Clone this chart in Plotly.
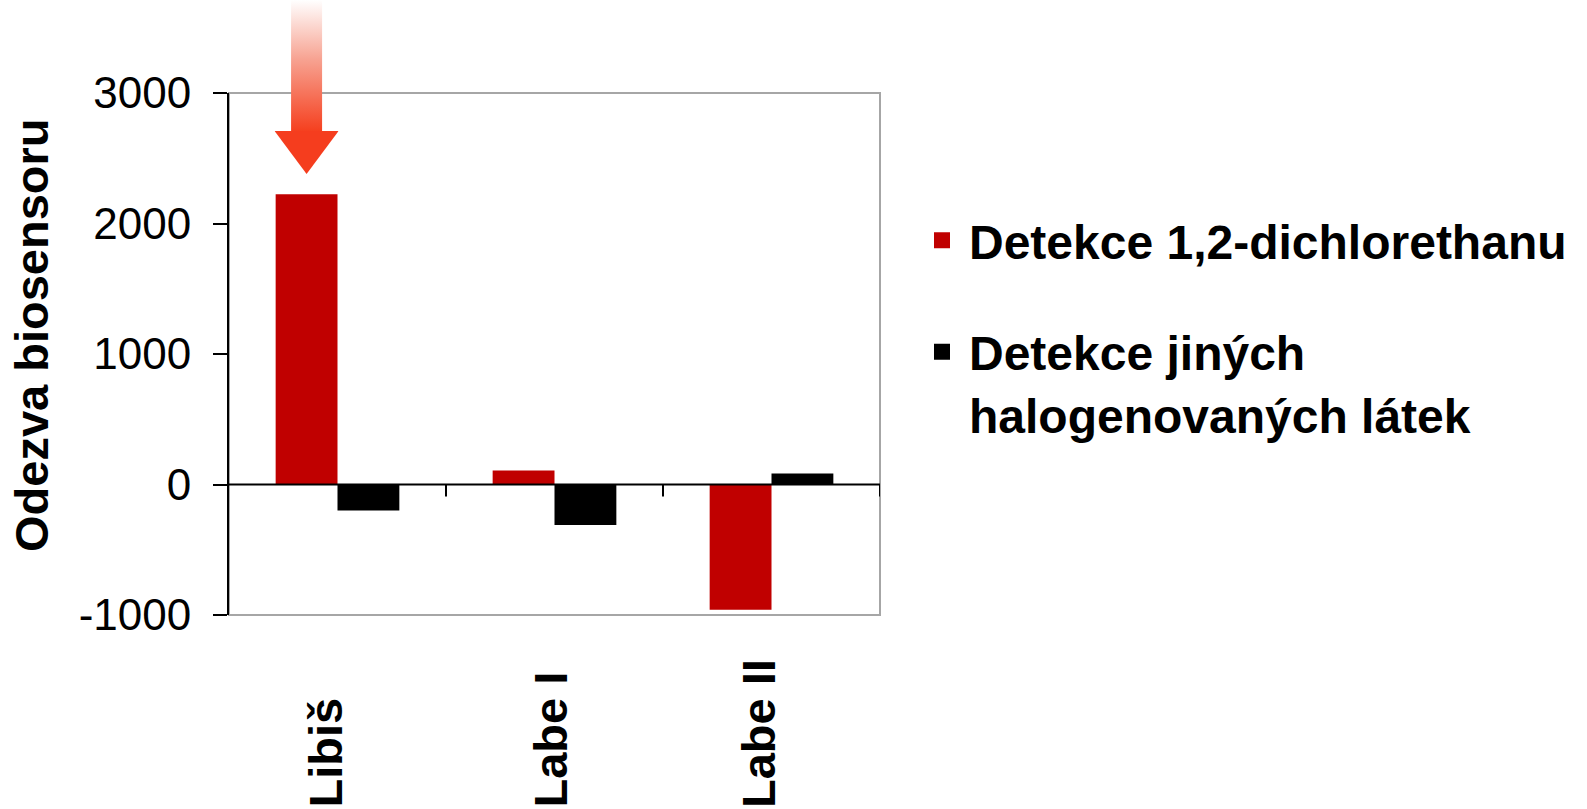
import base64
import plotly.graph_objects as go

# Sampling sites and biosensor responses
sites = ["Libiš", "Labe I", "Labe II"]
dce_response = [2225, 108, -960]          # Detekce 1,2-dichlorethanu
other_response = [-200, -310, 85]         # Detekce jiných halogenovaných látek
y_ticks = [-1000, 0, 1000, 2000, 3000]

series_names = ["Detekce 1,2-dichlorethanu",
                "Detekce jiných<br>halogenovaných látek"]
series_colors = ["#c00000", "#000000"]

FONT = "Liberation Sans, Arial, sans-serif"
W, H = 1587, 809
M_L, M_R, M_T, M_B = 229, 707, 93, 194
PLOT_W = W - M_L - M_R
PLOT_H = H - M_T - M_B
BARGAP = 0.43

fig = go.Figure()
for name, vals, col in zip(series_names, [dce_response, other_response], series_colors):
    fig.add_trace(go.Bar(
        x=sites, y=vals, name=name, showlegend=False,
        marker=dict(color=col, line=dict(width=0)),
    ))
# legend entries with larger square keys
for name, col in zip(series_names, series_colors):
    bold = "<b>" + name.replace("<br>", "</b><br><b>") + "</b>"
    fig.add_trace(go.Scatter(
        x=[None], y=[None], mode="markers", name=bold, legendgroup=name,
        marker=dict(symbol="square", size=20, color=col),
    ))

# Gradient arrow pointing at the Libiš 1,2-dichlorethane bar
arrow_w, arrow_h, head_top = 64, 174, 131
shaft_half = 15.5
svg = f"""<svg xmlns="http://www.w3.org/2000/svg" width="{arrow_w}" height="{arrow_h}" viewBox="0 0 {arrow_w} {arrow_h}">
<defs><linearGradient id="g" x1="0" y1="0" x2="0" y2="{head_top}" gradientUnits="userSpaceOnUse">
<stop offset="0" stop-color="#ffffff"/>
<stop offset="0.45" stop-color="#f7a392"/>
<stop offset="1" stop-color="#f5401f"/>
</linearGradient></defs>
<rect x="{arrow_w/2-shaft_half}" y="0" width="{2*shaft_half}" height="{head_top+1}" fill="url(#g)"/>
<polygon points="0,{head_top} {arrow_w},{head_top} {arrow_w/2},{arrow_h}" fill="#f53d1e"/>
</svg>"""
svg_uri = "data:image/svg+xml;base64," + base64.b64encode(svg.encode()).decode()

bar_w = (1 - BARGAP) / 2
cat_px = PLOT_W / len(sites)
fig.add_layout_image(
    source=svg_uri, xref="x", yref="paper",
    x=-bar_w / 2, y=(PLOT_H + M_T) / PLOT_H,
    sizex=arrow_w / cat_px, sizey=arrow_h / PLOT_H,
    xanchor="center", yanchor="top", sizing="stretch", layer="above",
)

shapes = [
    # grey plot frame
    dict(type="rect", xref="paper", yref="paper", x0=0, x1=1, y0=0, y1=1,
         line=dict(color="#a6a6a6", width=2), layer="below"),
    # category axis along zero
    dict(type="line", xref="paper", yref="y", x0=0, x1=1, y0=0, y1=0,
         line=dict(color="black", width=2), layer="above"),
]
# tick marks between categories
for k in range(len(sites)):
    shapes.append(dict(type="line", xref="x", yref="y", ysizemode="pixel", yanchor=0,
                       x0=k + 0.5, x1=k + 0.5, y0=0, y1=-12,
                       line=dict(color="black", width=2), layer="above"))

annotations = [
    dict(text="<b>Odezva biosensoru</b>", textangle=-90, xref="paper", yref="paper",
         x=(31 - M_L) / PLOT_W, y=(M_T + PLOT_H - 335) / PLOT_H,
         xanchor="center", yanchor="middle", showarrow=False,
         font=dict(family=FONT, size=47, color="black")),
]
label_shift = [-13, -5, -13]
for k, s in enumerate(sites):
    annotations.append(dict(
        text=f"<b>{s}</b>", textangle=-90, xref="x", yref="paper",
        x=k, xshift=label_shift[k], y=-(810 - M_T - PLOT_H) / PLOT_H,
        xanchor="center", yanchor="bottom",
        showarrow=False, font=dict(family=FONT, size=47, color="black")))

fig.update_layout(
    width=W, height=H,
    margin=dict(l=M_L, r=M_R, t=M_T, b=M_B),
    paper_bgcolor="white", plot_bgcolor="white",
    barmode="group", bargap=BARGAP, bargroupgap=0,
    font=dict(family=FONT, color="black"),
    xaxis=dict(range=[-0.5, 2.5], showticklabels=False, showgrid=False,
               zeroline=False, showline=False, ticks=""),
    yaxis=dict(range=[-1000, 3000], tickvals=y_ticks, ticktext=[str(v) for v in y_ticks],
               showgrid=False, zeroline=False, showline=True, linecolor="black",
               linewidth=2, ticks="outside", ticklen=14, tickwidth=2, tickcolor="black",
               ticklabelstandoff=13, tickfont=dict(family=FONT, size=44, color="black")),
    legend=dict(x=(915 - M_L) / PLOT_W, y=0.79, xanchor="left", yanchor="top",
                font=dict(family=FONT, size=48, color="black"),
                traceorder="grouped", tracegroupgap=46, valign="top",
                itemsizing="trace", itemwidth=44,
                bgcolor="rgba(0,0,0,0)"),
    shapes=shapes, annotations=annotations,
)

fig.write_html("out.html")
